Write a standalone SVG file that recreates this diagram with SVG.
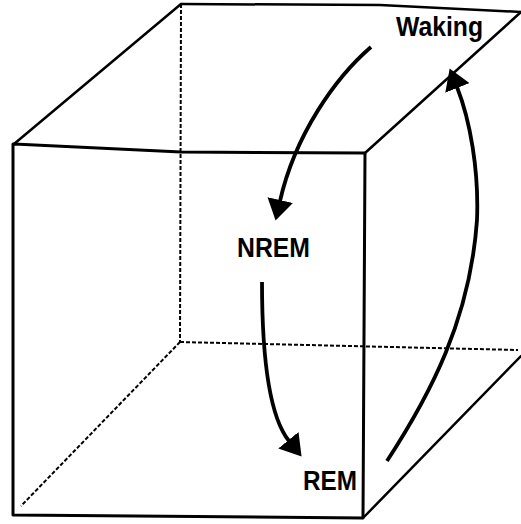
<svg xmlns="http://www.w3.org/2000/svg" width="521" height="524" viewBox="0 0 521 524">
  <style>
    .edge { fill: none; stroke: #000; stroke-width: 3; stroke-linecap: round; stroke-linejoin: round; }
    .thin { fill: none; stroke: #000; stroke-width: 2.5; stroke-linecap: round; }
    .hidden { fill: none; stroke: #000; stroke-width: 2; stroke-dasharray: 4 2; }
    .arrow { fill: none; stroke: #000; stroke-width: 3.8; }
    .label { font-family: "Liberation Sans", Arial, sans-serif; font-weight: bold; font-size: 27px; fill: #000; }
  </style>
  <defs>
    <marker id="head" markerUnits="userSpaceOnUse" markerWidth="22" markerHeight="26" viewBox="0 0 22 26" refX="1" refY="13" orient="auto">
      <path d="M0,0 L21,13 L0,26 Z" fill="#000"/>
    </marker>
  </defs>
  <rect width="521" height="524" fill="#fff"/>

  <g id="cube">
    <!-- hidden back edges -->
    <line class="hidden" x1="181" y1="4" x2="180" y2="342"/>
    <line class="hidden" x1="180" y1="342" x2="518" y2="350"/>
    <line class="hidden" x1="180" y1="342" x2="21" y2="506"/>
    <!-- back top and diagonals -->
    <polyline class="thin" points="181,4 380,5 521,12"/>
    <line class="thin" x1="14" y1="144" x2="181" y2="4"/>
    <line class="thin" x1="365" y1="153" x2="521" y2="12"/>
    <line class="thin" x1="363" y1="518" x2="521" y2="356"/>
    <!-- front face -->
    <polyline class="edge" points="14,144 181,152 365,153 363,518 13,515 13,144"/>
  </g>

  <g id="connectors">
    <path class="arrow" d="M371,47 C335,78 295,135 280,201" marker-end="url(#head)"/>
    <path class="arrow" d="M262,282 C262,370 272,420 289,441" marker-end="url(#head)"/>
    <path class="arrow" d="M387,461 C430,395 470,320 477,220 C479,170 470,120 457,87" marker-end="url(#head)"/>
  </g>

  <g id="waking">
    <text class="label" x="396" y="36" textLength="87" lengthAdjust="spacingAndGlyphs">Waking</text>
  </g>
  <g id="nrem">
    <text class="label" x="237" y="257" textLength="73" lengthAdjust="spacingAndGlyphs">NREM</text>
  </g>
  <g id="rem">
    <text class="label" x="303" y="490" textLength="54" lengthAdjust="spacingAndGlyphs">REM</text>
  </g>
</svg>
